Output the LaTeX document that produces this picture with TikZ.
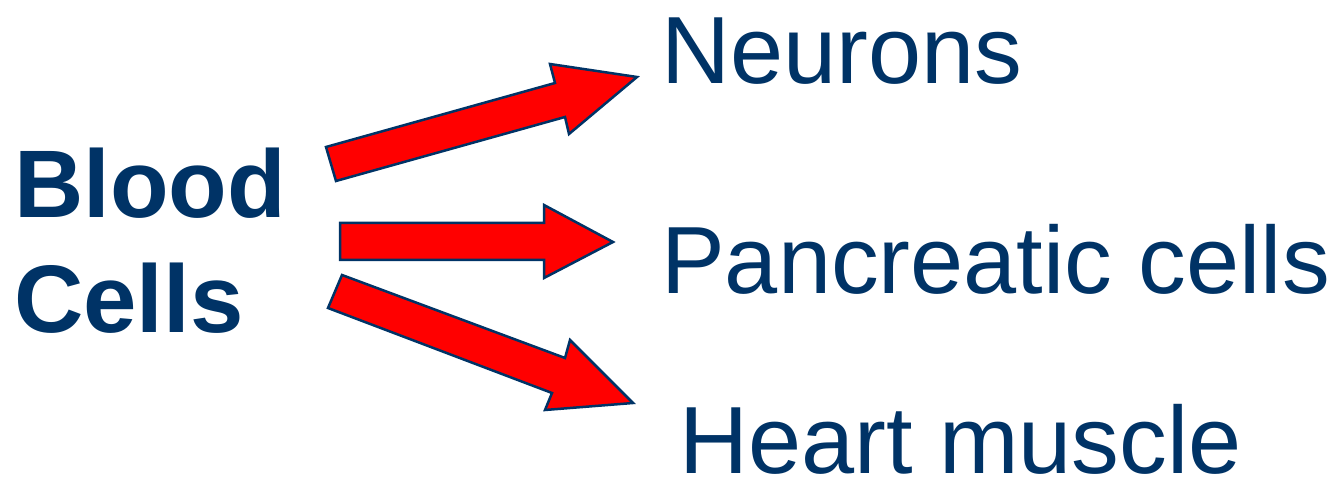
\documentclass[tikz,border=0pt]{standalone}
\usepackage{fontspec}
\setmainfont{Liberation Sans}
\definecolor{navy}{RGB}{0,51,102}
\begin{document}
\begin{tikzpicture}[x=1pt,y=-1pt,
  lbl/.style={anchor=base west,inner sep=0pt,text=navy,font=\fontsize{95.5}{95.5}\selectfont},
  blbl/.style={lbl,font=\fontsize{96}{96}\selectfont\bfseries},
  blk/.style={fill=red,draw=navy,line width=2.5pt,line join=miter}]
\useasboundingbox (0,0) rectangle (1339,478);
\draw[blk] (326,147) -- (555,83) -- (550,64) -- (637,77) -- (569,134) -- (565,117) -- (336,181) -- cycle;
\draw[blk] (340,223) -- (544,223) -- (544,205) -- (613,242) -- (544,278) -- (544,260) -- (340,260) -- cycle;
\draw[blk] (342,275) -- (565,358) -- (570,340) -- (633,403) -- (545,410) -- (552,393) -- (328,308) -- cycle;
\node[lbl] (neu) at (661,84) {Neurons};
\node[lbl] (pan) at (661,294) {Pancreatic cells};
\node[lbl,text depth=0pt] (hea) at (679,473) {Heart muscle};
\node[blbl] (blo) at (14,218) {Blood};
\node[blbl] (cel) at (14,333) {Cells};
\end{tikzpicture}
\end{document}
